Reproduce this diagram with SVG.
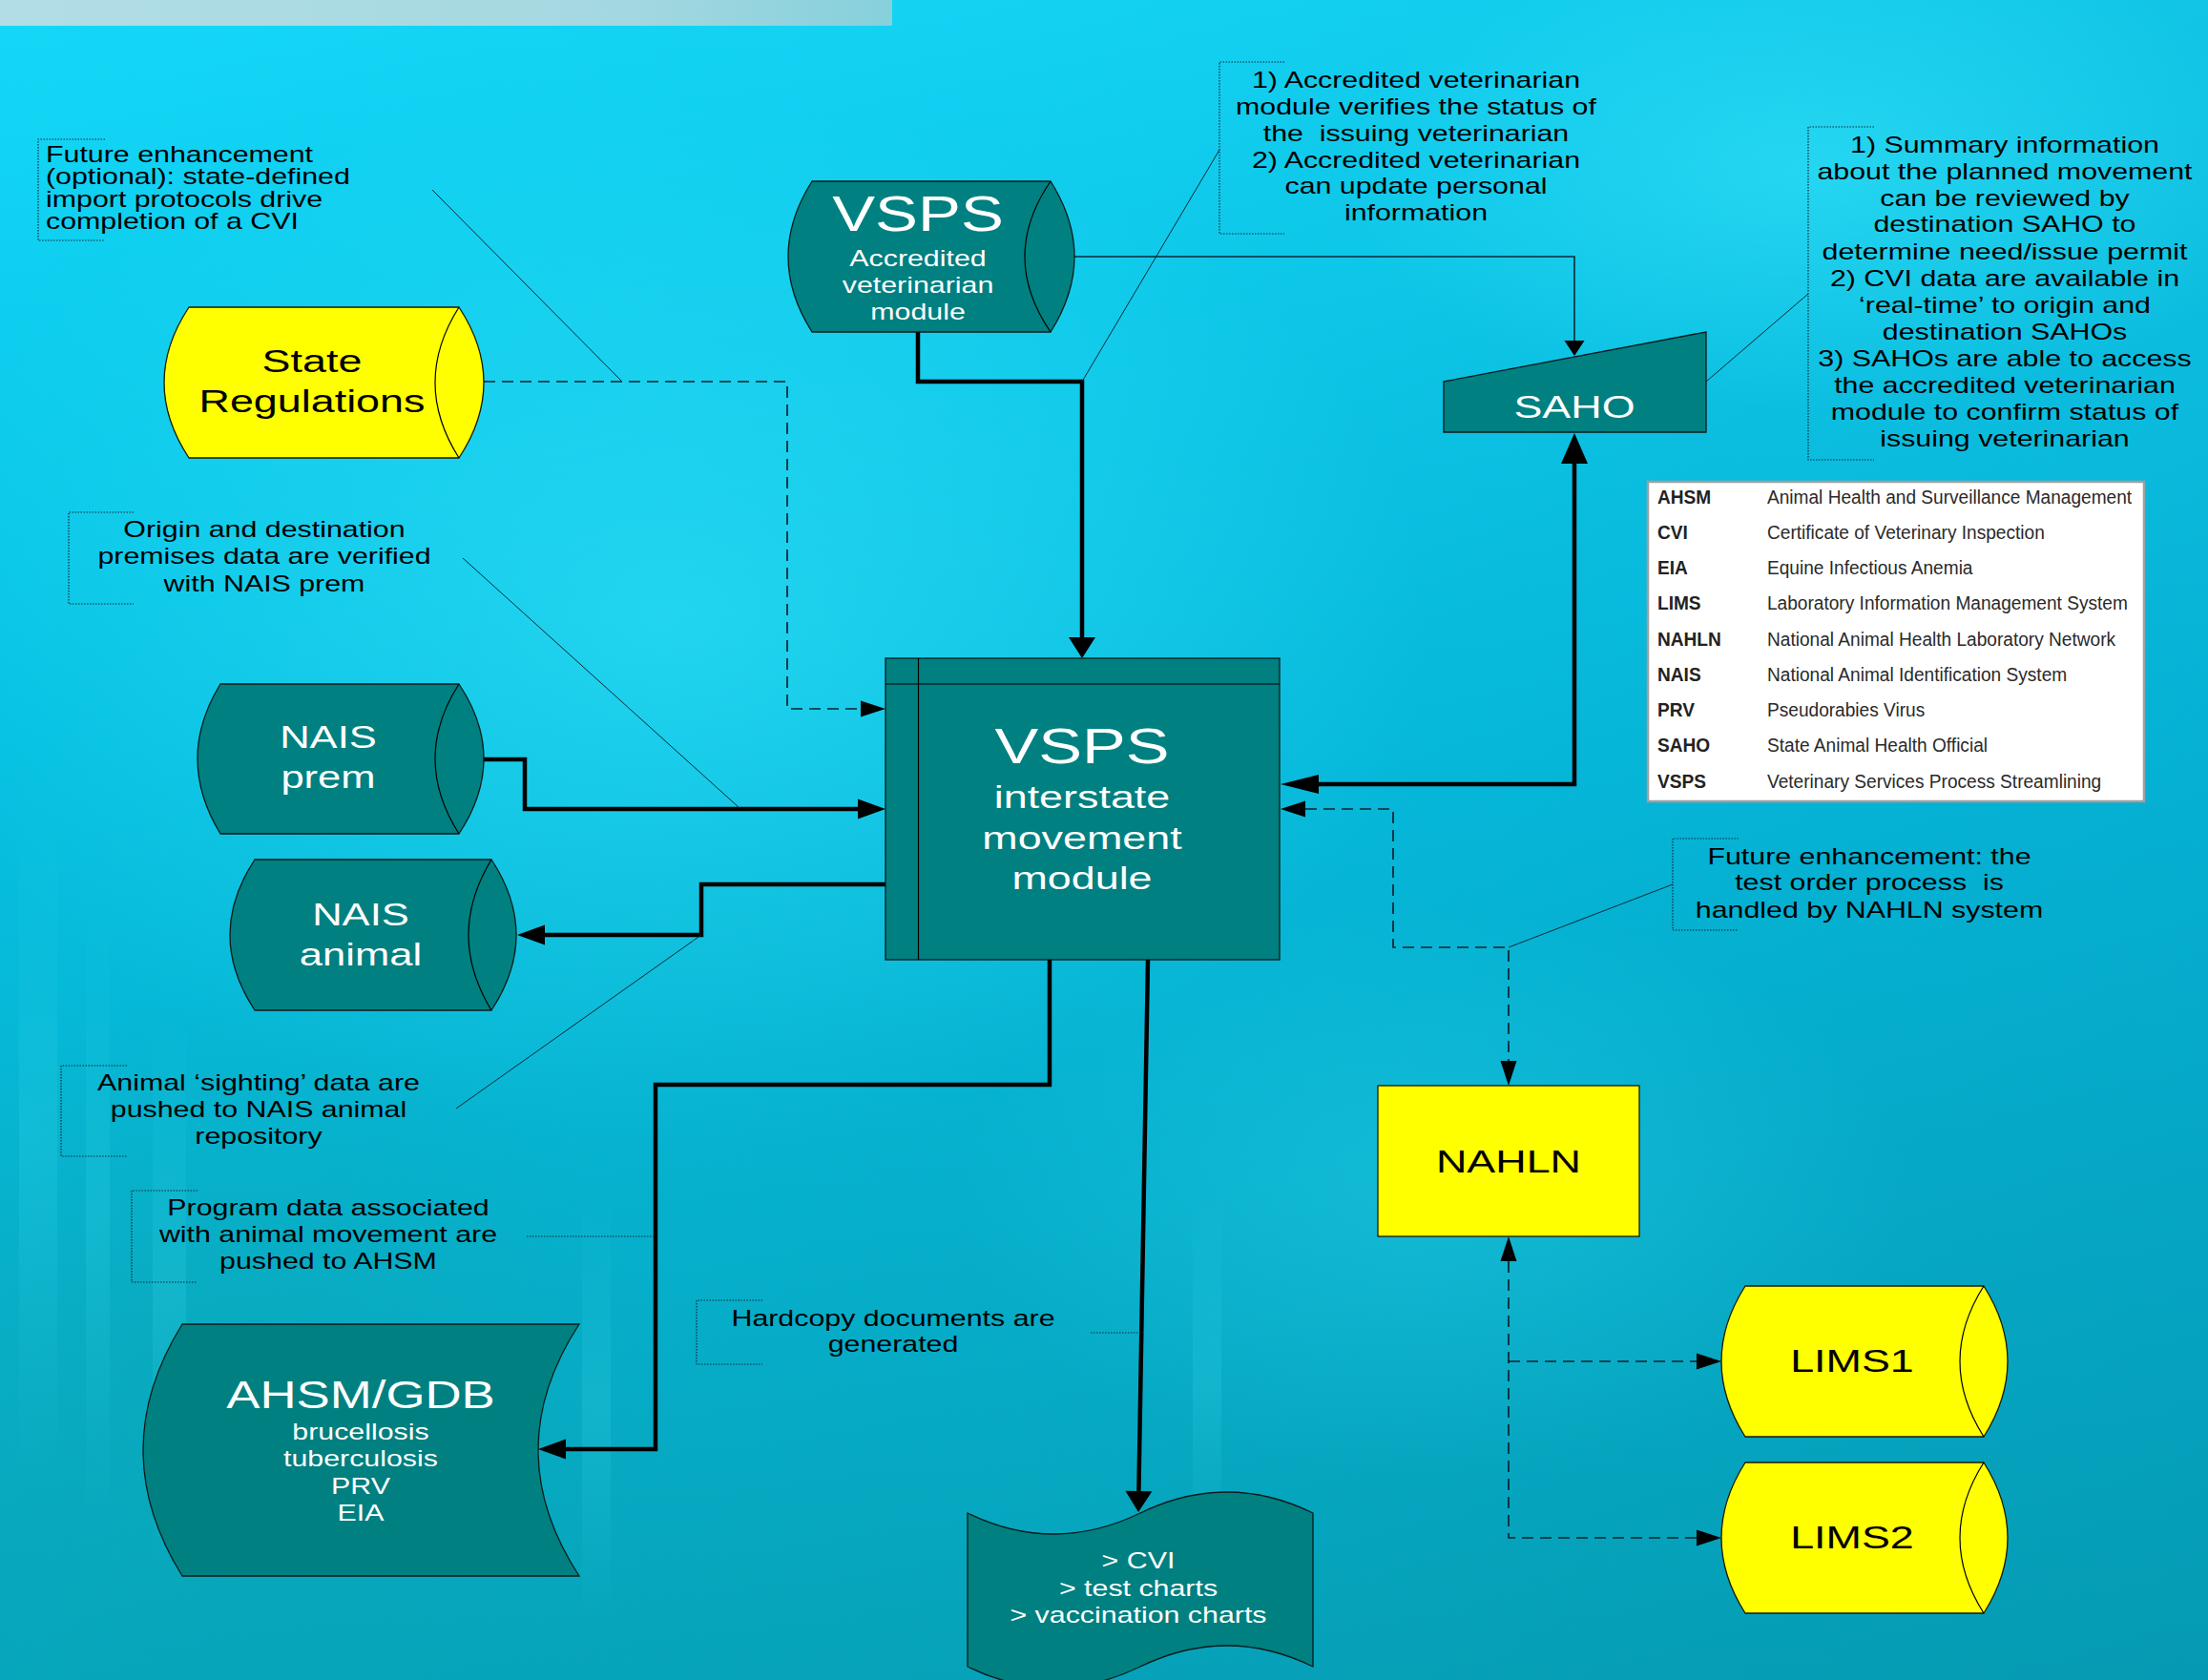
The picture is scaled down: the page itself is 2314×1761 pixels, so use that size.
<svg xmlns="http://www.w3.org/2000/svg" width="2314" height="1761" viewBox="0 0 2314 1761">
<defs>
<linearGradient id="bgv" x1="0" y1="0" x2="0" y2="1">
<stop offset="0" stop-color="#14d8f8"/>
<stop offset="0.45" stop-color="#06c0e2"/>
<stop offset="1" stop-color="#06a6bc"/>
</linearGradient>
<linearGradient id="bgh" x1="0" y1="0" x2="1" y2="0">
<stop offset="0" stop-color="#00507a" stop-opacity="0"/>
<stop offset="0.5" stop-color="#00507a" stop-opacity="0.05"/>
<stop offset="1" stop-color="#00507a" stop-opacity="0.14"/>
</linearGradient>
<radialGradient id="glow" cx="0.5" cy="0.5" r="0.5">
<stop offset="0" stop-color="#40ecff" stop-opacity="0.45"/>
<stop offset="1" stop-color="#40ecff" stop-opacity="0"/>
</radialGradient>
<radialGradient id="tealglow" cx="0.5" cy="0.5" r="0.5">
<stop offset="0" stop-color="#10a0a8" stop-opacity="0.35"/>
<stop offset="1" stop-color="#10a0a8" stop-opacity="0"/>
</radialGradient>
<linearGradient id="streak" x1="0" y1="0" x2="0" y2="1">
<stop offset="0" stop-color="#40e0f0" stop-opacity="0"/>
<stop offset="0.5" stop-color="#40e0f0" stop-opacity="0.18"/>
<stop offset="1" stop-color="#40e0f0" stop-opacity="0"/>
</linearGradient>
<linearGradient id="strip" x1="0" y1="0" x2="1" y2="0">
<stop offset="0" stop-color="#b2dde6"/>
<stop offset="0.7" stop-color="#a4d8e0"/>
<stop offset="1" stop-color="#86d0dc"/>
</linearGradient>
<marker id="mA" markerUnits="userSpaceOnUse" markerWidth="22" markerHeight="28" refX="0" refY="14" orient="auto-start-reverse" overflow="visible"><path d="M0,0 L22,14 L0,28 Z" fill="#000"/></marker>
<marker id="mB" markerUnits="userSpaceOnUse" markerWidth="29" markerHeight="21" refX="0" refY="10.5" orient="auto-start-reverse" overflow="visible"><path d="M0,0 L29,10.5 L0,21 Z" fill="#000"/></marker>
<marker id="mC" markerUnits="userSpaceOnUse" markerWidth="32" markerHeight="28" refX="0" refY="14" orient="auto-start-reverse" overflow="visible"><path d="M0,0 L32,14 L0,28 Z" fill="#000"/></marker>
<marker id="mD" markerUnits="userSpaceOnUse" markerWidth="40" markerHeight="20" refX="0" refY="10" orient="auto-start-reverse" overflow="visible"><path d="M0,0 L40,10 L0,20 Z" fill="#000"/></marker>
<marker id="mT" markerUnits="userSpaceOnUse" markerWidth="16" markerHeight="21" refX="0" refY="10.5" orient="auto-start-reverse" overflow="visible"><path d="M0,0 L16,10.5 L0,21 Z" fill="#000"/></marker>
<marker id="mE" markerUnits="userSpaceOnUse" markerWidth="26" markerHeight="17" refX="0" refY="8.5" orient="auto-start-reverse" overflow="visible"><path d="M0,0 L26,8.5 L0,17 Z" fill="#000"/></marker>
</defs>
<style>
.teal{fill:#008080;stroke:#0a1a1a;stroke-width:1.3}
.yel{fill:#ffff00;stroke:#1a1a00;stroke-width:1.3}
.arc{fill:none;stroke:#000;stroke-width:1.2}
.thick{fill:none;stroke:#000;stroke-width:4.5;stroke-linejoin:miter}
.thin{fill:none;stroke:#0a2a38;stroke-width:1.6}
.dash{fill:none;stroke:#0a2430;stroke-width:1.7;stroke-dasharray:12 7}
.lead{fill:none;stroke:#0a2a38;stroke-width:1}
.brk{fill:none;stroke:#0a2a38;stroke-width:1.2;stroke-dasharray:1.5 1.5}
text{font-family:"Liberation Sans",Arial,sans-serif}
.ann{font-size:23px;fill:#000;text-anchor:middle}
.annl{font-size:23px;fill:#000;text-anchor:start}
.wt{fill:#fff;text-anchor:middle}
.bt{fill:#000;text-anchor:middle}
.lgA{font-size:21px;font-weight:bold;fill:#222}
.lgD{font-size:21px;fill:#2a2a2a}
</style>

<g id="background">
<rect x="0" y="0" width="2314" height="1761" fill="url(#bgv)"/>
<rect x="0" y="0" width="2314" height="1761" fill="url(#bgh)"/>
<ellipse cx="700" cy="650" rx="800" ry="550" fill="url(#glow)"/>
<ellipse cx="1900" cy="180" rx="500" ry="250" fill="url(#glow)"/>
<ellipse cx="250" cy="1450" rx="450" ry="400" fill="url(#tealglow)"/>
<ellipse cx="1500" cy="1250" rx="500" ry="300" fill="url(#glow)" opacity="0.5"/>
<rect x="20" y="850" width="40" height="700" fill="url(#streak)"/>
<rect x="90" y="950" width="25" height="650" fill="url(#streak)"/>
<rect x="160" y="1050" width="35" height="600" fill="url(#streak)"/>
<rect x="610" y="1250" width="30" height="450" fill="url(#streak)"/>
<rect x="1250" y="1250" width="30" height="400" fill="url(#streak)"/>
<rect x="0" y="0" width="935" height="27" fill="url(#strip)"/>
</g>

<g id="connectors">
<path class="thin" d="M1126,269 H1650 V357" marker-end="url(#mT)"/>
<path class="thick" d="M962,348 V400 H1134 V668" marker-end="url(#mA)"/>
<path class="thick" d="M1650,486 V822 H1382" marker-start="url(#mC)" marker-end="url(#mD)"/>
<path class="thick" d="M507,796 H550 V848 H899" marker-end="url(#mB)"/>
<path class="thick" d="M928,927 H735 V980 H571" marker-end="url(#mB)"/>
<path class="thick" d="M1100,1006 V1137 H687 V1519 H593" marker-end="url(#mB)"/>
<path class="thick" d="M1203,1006 L1193.4,1563" marker-end="url(#mA)"/>
<path class="dash" d="M507,400 H825 V743 H902" marker-end="url(#mE)"/>
<path class="dash" d="M1368,848 H1460 V993 H1581 V1112" marker-start="url(#mE)" marker-end="url(#mE)"/>
<path class="dash" d="M1581,1322 V1612 H1778" marker-start="url(#mE)" marker-end="url(#mE)"/>
<path class="dash" d="M1581,1427 H1778" marker-end="url(#mE)"/>
<path class="lead" d="M453,199 L652,400"/>
<path class="lead" d="M485,585 L775,847"/>
<path class="lead" d="M478,1162 L735,980"/>
<path class="brk" d="M552,1296 H687"/>
<path class="brk" d="M1143,1397 H1198"/>
<path class="lead" d="M1278,157 L1134,400"/>
<path class="lead" d="M1895,308 L1788,400"/>
<path class="lead" d="M1753,927 L1581,993"/>
</g>

<g id="vsps-accredited">
<path class="teal" d="M851,190 H1101 Q1151,269 1101,348 H851 Q801,269 851,190 Z"/>
<path class="arc" d="M1101,190 Q1047,269 1101,348"/>
<g transform="matrix(1.32 0 0 1 -307.84 0)">
<text class="wt" x="962" y="242" font-size="51">VSPS</text>
<text class="wt" x="962" y="279" font-size="23">Accredited</text>
<text class="wt" x="962" y="307" font-size="23">veterinarian</text>
<text class="wt" x="962" y="335" font-size="23">module</text>
</g>
</g>

<g id="saho">
<path class="teal" d="M1513,400 L1788,348 V453 H1513 Z"/>
<g transform="matrix(1.32 0 0 1 -528 0)">
<text class="wt" x="1650" y="438" font-size="34">SAHO</text>
</g>
</g>

<g id="vsps-module">
<rect class="teal" x="928" y="690" width="413" height="316"/>
<path class="arc" d="M962.5,690 V1006 M928,717 H1341"/>
<g transform="matrix(1.32 0 0 1 -362.88 0)">
<text class="wt" x="1134" y="800" font-size="52">VSPS</text>
<text class="wt" x="1134" y="847" font-size="34">interstate</text>
<text class="wt" x="1134" y="890" font-size="34">movement</text>
<text class="wt" x="1134" y="932" font-size="34">module</text>
</g>
</g>

<g id="state-regulations">
<path class="yel" d="M198,322 H481 Q533,401 481,480 H198 Q146,401 198,322 Z"/>
<path class="arc" d="M481,322 Q431,401 481,480"/>
<g transform="matrix(1.32 0 0 1 -104.64 0)">
<text class="bt" x="327" y="390" font-size="34">State</text>
<text class="bt" x="327" y="432" font-size="34">Regulations</text>
</g>
</g>

<g id="nais-prem">
<path class="teal" d="M231,717 H481 Q533,795 481,874 H231 Q183,795 231,717 Z"/>
<path class="arc" d="M481,717 Q431,795 481,874"/>
<g transform="matrix(1.32 0 0 1 -110.08 0)">
<text class="wt" x="344" y="784" font-size="33">NAIS</text>
<text class="wt" x="344" y="826" font-size="33">prem</text>
</g>
</g>

<g id="nais-animal">
<path class="teal" d="M267,901 H515 Q567,980 515,1059 H267 Q215,980 267,901 Z"/>
<path class="arc" d="M515,901 Q467,980 515,1059"/>
<g transform="matrix(1.32 0 0 1 -120.96 0)">
<text class="wt" x="378" y="970" font-size="33">NAIS</text>
<text class="wt" x="378" y="1012" font-size="33">animal</text>
</g>
</g>

<g id="ahsm-gdb">
<path class="teal" d="M191,1388 H607 Q521,1520 607,1652 H191 Q109,1520 191,1388 Z"/>
<g transform="matrix(1.32 0 0 1 -120.96 0)">
<text class="wt" x="378" y="1476" font-size="40">AHSM/GDB</text>
<text class="wt" x="378" y="1509" font-size="23">brucellosis</text>
<text class="wt" x="378" y="1537" font-size="23">tuberculosis</text>
<text class="wt" x="378" y="1566" font-size="23">PRV</text>
<text class="wt" x="378" y="1594" font-size="23">EIA</text>
</g>
</g>

<g id="documents">
<path class="teal" d="M1014,1586 Q1104,1630 1195,1586 T1376,1586 V1747 Q1286,1703 1195,1747 T1014,1747 Z"/>
<g transform="matrix(1.32 0 0 1 -381.76 0)">
<text class="wt" x="1193" y="1644" font-size="23">&gt; CVI</text>
<text class="wt" x="1193" y="1673" font-size="23">&gt; test charts</text>
<text class="wt" x="1193" y="1701" font-size="23">&gt; vaccination charts</text>
</g>
</g>

<g id="nahln">
<rect class="yel" x="1444" y="1138" width="274" height="158"/>
<g transform="matrix(1.32 0 0 1 -505.92 0)">
<text class="bt" x="1581" y="1229" font-size="34">NAHLN</text>
</g>
</g>

<g id="lims1">
<path class="yel" d="M1829,1348 H2079 Q2129,1427 2079,1506 H1829 Q1779,1427 1829,1348 Z"/>
<path class="arc" d="M2079,1348 Q2029,1427 2079,1506"/>
<g transform="matrix(1.32 0 0 1 -621.12 0)">
<text class="bt" x="1941" y="1438" font-size="34">LIMS1</text>
</g>
</g>

<g id="lims2">
<path class="yel" d="M1829,1533 H2079 Q2129,1612 2079,1691 H1829 Q1779,1612 1829,1533 Z"/>
<path class="arc" d="M2079,1533 Q2029,1612 2079,1691"/>
<g transform="matrix(1.32 0 0 1 -621.12 0)">
<text class="bt" x="1941" y="1623" font-size="34">LIMS2</text>
</g>
</g>

<g id="note-import-protocols">
<path class="brk" d="M110,146 H40 V252 H110"/>
<g transform="matrix(1.32 0 0 1 -15.36 0)">
<text class="annl" x="48" y="170">Future enhancement</text>
<text class="annl" x="48" y="193">(optional): state-defined</text>
<text class="annl" x="48" y="217">import protocols drive</text>
<text class="annl" x="48" y="240">completion of a CVI</text>
</g>
</g>

<g id="note-premises">
<path class="brk" d="M140,537 H72 V633 H140"/>
<g transform="matrix(1.32 0 0 1 -88.64 0)">
<text class="ann" x="277" y="563">Origin and destination</text>
<text class="ann" x="277" y="591">premises data are verified</text>
<text class="ann" x="277" y="620">with NAIS prem</text>
</g>
</g>

<g id="note-sighting">
<path class="brk" d="M133,1117 H64 V1212 H133"/>
<g transform="matrix(1.32 0 0 1 -86.72 0)">
<text class="ann" x="271" y="1143">Animal ‘sighting’ data are</text>
<text class="ann" x="271" y="1171">pushed to NAIS animal</text>
<text class="ann" x="271" y="1199">repository</text>
</g>
</g>

<g id="note-program">
<path class="brk" d="M207,1248 H138 V1344 H207"/>
<g transform="matrix(1.32 0 0 1 -110.08 0)">
<text class="ann" x="344" y="1274">Program data associated</text>
<text class="ann" x="344" y="1302">with animal movement are</text>
<text class="ann" x="344" y="1330">pushed to AHSM</text>
</g>
</g>

<g id="note-hardcopy">
<path class="brk" d="M799,1363 H730 V1430 H799"/>
<g transform="matrix(1.32 0 0 1 -299.52 0)">
<text class="ann" x="936" y="1390">Hardcopy documents are</text>
<text class="ann" x="936" y="1417">generated</text>
</g>
</g>

<g id="note-accredited">
<path class="brk" d="M1346,65 H1278 V245 H1346"/>
<g transform="matrix(1.32 0 0 1 -474.88 0)">
<text class="ann" x="1484" y="92">1) Accredited veterinarian</text>
<text class="ann" x="1484" y="120">module verifies the status of</text>
<text class="ann" x="1484" y="148" xml:space="preserve">the  issuing veterinarian</text>
<text class="ann" x="1484" y="176">2) Accredited veterinarian</text>
<text class="ann" x="1484" y="203">can update personal</text>
<text class="ann" x="1484" y="231">information</text>
</g>
</g>

<g id="note-saho">
<path class="brk" d="M1964,133 H1895 V482 H1964"/>
<g transform="matrix(1.32 0 0 1 -672.32 0)">
<text class="ann" x="2101" y="160">1) Summary information</text>
<text class="ann" x="2101" y="188">about the planned movement</text>
<text class="ann" x="2101" y="216">can be reviewed by</text>
<text class="ann" x="2101" y="243">destination SAHO to</text>
<text class="ann" x="2101" y="272">determine need/issue permit</text>
<text class="ann" x="2101" y="300">2) CVI data are available in</text>
<text class="ann" x="2101" y="328">‘real-time’ to origin and</text>
<text class="ann" x="2101" y="356">destination SAHOs</text>
<text class="ann" x="2101" y="384">3) SAHOs are able to access</text>
<text class="ann" x="2101" y="412">the accredited veterinarian</text>
<text class="ann" x="2101" y="440">module to confirm status of</text>
<text class="ann" x="2101" y="468">issuing veterinarian</text>
</g>
</g>

<g id="note-nahln">
<path class="brk" d="M1822,879 H1753 V975 H1822"/>
<g transform="matrix(1.32 0 0 1 -626.88 0)">
<text class="ann" x="1959" y="906">Future enhancement: the</text>
<text class="ann" x="1959" y="933" xml:space="preserve">test order process  is</text>
<text class="ann" x="1959" y="962">handled by NAHLN system</text>
</g>
</g>

<g id="legend">
<rect x="1727" y="505" width="520" height="335" fill="#ffffff" stroke="#a0a0a0" stroke-width="2.5"/>
<g transform="matrix(0.91 0 0 1 156.33 0)">
<text class="lgA" x="1737" y="528">AHSM</text>
<text class="lgA" x="1737" y="565">CVI</text>
<text class="lgA" x="1737" y="602">EIA</text>
<text class="lgA" x="1737" y="639">LIMS</text>
<text class="lgA" x="1737" y="677">NAHLN</text>
<text class="lgA" x="1737" y="714">NAIS</text>
<text class="lgA" x="1737" y="751">PRV</text>
<text class="lgA" x="1737" y="788">SAHO</text>
<text class="lgA" x="1737" y="826">VSPS</text>
</g>
<g transform="matrix(0.91 0 0 1 166.68 0)">
<text class="lgD" x="1852" y="528">Animal Health and Surveillance Management</text>
<text class="lgD" x="1852" y="565">Certificate of Veterinary Inspection</text>
<text class="lgD" x="1852" y="602">Equine Infectious Anemia</text>
<text class="lgD" x="1852" y="639">Laboratory Information Management System</text>
<text class="lgD" x="1852" y="677">National Animal Health Laboratory Network</text>
<text class="lgD" x="1852" y="714">National Animal Identification System</text>
<text class="lgD" x="1852" y="751">Pseudorabies Virus</text>
<text class="lgD" x="1852" y="788">State Animal Health Official</text>
<text class="lgD" x="1852" y="826">Veterinary Services Process Streamlining</text>
</g>
</g>
</svg>
